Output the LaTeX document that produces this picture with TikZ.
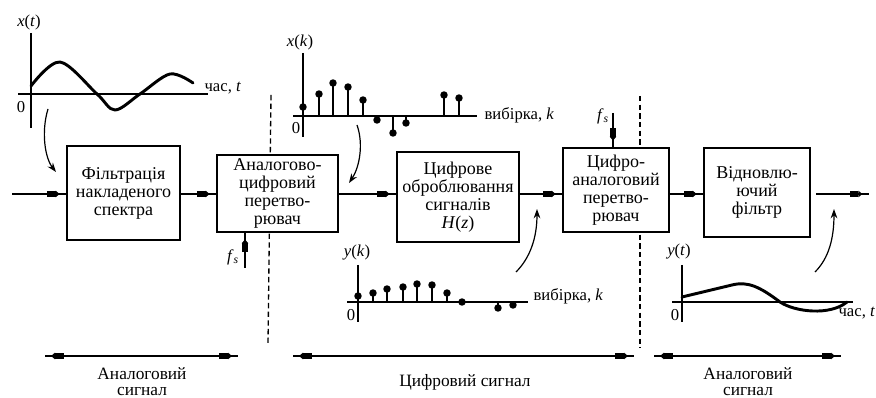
\documentclass[tikz,border=0pt]{standalone}
\usepackage{fontspec}
\setmainfont{Liberation Serif}
\usetikzlibrary{arrows.meta}
\usetikzlibrary{decorations.markings}
\usetikzlibrary{positioning}

\begin{document}
\begin{tikzpicture}[x=0.75pt,y=-0.75pt,
    blk/.tip={Rectangle[length=6.5pt,width=4.8pt]Triangle[length=3pt,width=4.8pt]},
    box/.style={draw,fill=white,line width=1.1pt,align=center,inner sep=1pt,font=\fontsize{13.5}{13.5}\selectfont},
    lbl/.style={inner sep=1pt,font=\fontsize{12.5}{12.5}\selectfont},
    txt/.style={align=center,inner sep=0pt,font=\fontsize{13}{12}\selectfont},
    flow/.style={line width=1pt,postaction={decorate},
      decoration={markings,mark=at position -5pt with {\arrow{blk}}}},
    both/.style={line width=1pt,postaction={decorate},
      decoration={markings,mark=at position 4.5pt with {\arrowreversed{blk}},
        mark=at position -4.5pt with {\arrow{blk}}}},
    pointer/.style={line width=0.9pt,-{Stealth[length=7pt,width=5pt]}},
    sep/.style={line width=1pt,dash pattern=on 4pt off 2.5pt},
    axis/.style={line width=1.1pt},
    sig/.style={line width=2.2pt,line cap=round,line join=round},
    stem/.style={line width=1.5pt}]
  \useasboundingbox (0,0) rectangle (876,398);

  % domain borders
  \draw[sep] (271,95) -- (268,345);
  \draw[sep] (640,96) -- (640,348);

  % blocks
  \node[box,minimum width=84.75pt,minimum height=70.5pt] (filt) at (123.5,193) {Фільтрація\\накладеного\\спектра};
  \node[box,minimum width=90.75pt,minimum height=57.75pt] (adc) at (277.5,193.5) {Аналогово-\\цифровий\\перетво-\\рювач};
  \node[box,minimum width=91.5pt,minimum height=67.5pt] (dsp) at (458,197) {Цифрове\\оброблювання\\сигналів\\\textit{H}(\textit{z})};
  \node[box,minimum width=79.5pt,minimum height=63pt] (dac) at (616,190) {Цифро-\\аналоговий\\перетво-\\рювач};
  \node[box,minimum width=79.5pt,minimum height=66.75pt] (rec) at (757,192.5) {Відновлю-\\ючий\\фільтр};

  \coordinate (in) at (12,194);
  \coordinate (outs) at (816,194);
  \coordinate (out) at (869,194);
  \draw[flow] (in) -- (filt.west |- in);
  \draw[flow] (filt.east |- in) -- (adc.west |- in);
  \draw[flow] (adc.east |- in) -- (dsp.west |- in);
  \draw[flow] (dsp.east |- in) -- (dac.west |- in);
  \draw[flow] (dac.east |- in) -- (rec.west |- in);
  \draw[flow] (outs) -- (out);

  % sampling clock
  \coordinate (fsa) at (245,268);
  \coordinate (fsb) at (613,113);
  \draw[flow] (fsa) -- (fsa |- adc.south);
  \draw[flow] (fsb) -- (fsb |- dac.north);
  \node[lbl] (fsal) at (233,257) {\textit{f}\textsubscript{\textit{s}}};
  \node[lbl] (fsbl) at (603,116) {\textit{f}\textsubscript{\textit{s}}};

  % x(t)
  \draw[axis] (31,33) -- (31,128);
  \draw[axis] (18,94) -- (208,94);
  \draw[sig] plot[smooth,tension=0.55] coordinates {(31,86) (60,62) (97,94) (115,110) (140,94) (170,74) (193,83)};
  \node[lbl] (xt) at (29,22) {\textit{x}(\textit{t})};
  \node[lbl] (xt0) at (21,107) {0};
  \node[lbl,anchor=west] (xtu) at (203,88) {час, \textit{t}};

  % x(k)
  \draw[axis] (303,53) -- (303,137);
  \draw[axis] (293,116) -- (477,116);
  \foreach \x/\y in {303/107,319/94,333/83,348/87,363/100,377/120,393/133,406/123,444/95,459/98}{
    \draw[stem] (\x,116) -- (\x,\y);
    \fill (\x,\y) circle[radius=2.8pt];
  }
  \node[lbl] (xk) at (300,42) {\textit{x}(\textit{k})};
  \node[lbl] (xk0) at (296,128) {0};
  \node[lbl,anchor=west] (xku) at (483,115) {вибірка, \textit{k}};

  % y(k)
  \draw[axis] (358,265) -- (358,322);
  \draw[axis] (347,302) -- (528,302);
  \foreach \x/\y in {358/296,373/293,387/289,403/287,417/284,432/285,447/293,462/302,498/308,513/305}{
    \draw[stem] (\x,302) -- (\x,\y);
    \fill (\x,\y) circle[radius=2.8pt];
  }
  \node[lbl] (yk) at (357,253) {\textit{y}(\textit{k})};
  \node[lbl] (yk0) at (351,315) {0};
  \node[lbl,anchor=west] (yku) at (532,296) {вибірка, \textit{k}};

  % y(t)
  \draw[axis] (682,265) -- (682,322);
  \draw[axis] (672,302) -- (853,302);
  \draw[sig] (682,297) -- (732,285) .. controls (748,281) and (760,287) .. (780,302)
    .. controls (795,312) and (830,316) .. (847,302);
  \node[lbl] (yt) at (679,252) {\textit{y}(\textit{t})};
  \node[lbl] (yt0) at (675,315) {0};
  \node[lbl,anchor=west] (ytu) at (837,313) {час, \textit{t}};

  % signal pointers
  \coordinate (p1) at (48,109);
  \coordinate (p1e) at (56,172);
  \coordinate (p2) at (357,125);
  \coordinate (p2e) at (349,183);
  \coordinate (p3) at (516,272);
  \coordinate (p3e) at (537,209);
  \coordinate (p4) at (815,272);
  \coordinate (p4e) at (834,209);
  \draw[pointer] (p1) .. controls (41,132) and (45,158) .. (p1e);
  \draw[pointer] (p2) .. controls (364,145) and (359,168) .. (p2e);
  \draw[pointer] (p3) .. controls (530,258) and (537,238) .. (p3e);
  \draw[pointer] (p4) .. controls (829,258) and (834,238) .. (p4e);

  % signal kinds
  \coordinate (la) at (45,356);
  \coordinate (lb) at (238,356);
  \coordinate (ma) at (293,356);
  \coordinate (mb) at (634,356);
  \coordinate (ra) at (654,356);
  \coordinate (rb) at (841,356);
  \draw[both] (la) -- (lb);
  \draw[both] (ma) -- (mb);
  \draw[both] (ra) -- (rb);
  \node[txt] (lt) at (142,382) {Аналоговий\\сигнал};
  \node[txt] (mt) at (465,382) {Цифровий сигнал};
  \node[txt] (rt) at (748,382) {Аналоговий\\сигнал};
\end{tikzpicture}
\end{document}
